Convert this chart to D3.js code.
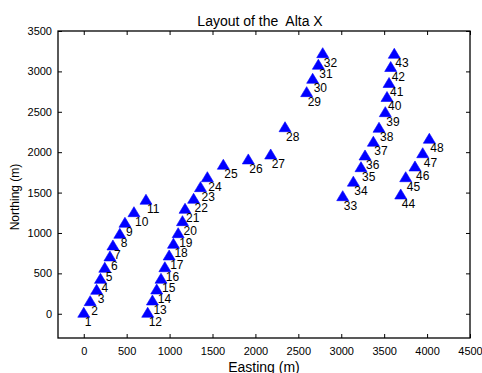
<!DOCTYPE html>
<html>
<head>
<meta charset="utf-8">
<script src="https://cdn.jsdelivr.net/npm/d3@7/dist/d3.min.js"></script>
<style>
  html, body { margin: 0; padding: 0; background: #fff; }
  svg { display: block; }
  text { font-family: "Liberation Sans", Arial, Helvetica, sans-serif; fill: #000; }
</style>
</head>
<body>
<svg id="chart" width="482" height="373"></svg>
<script>
// Turbine numbers and their coordinates (metres)
const turbineIds = d3.range(1, 49);
const easting = [
  0, 75, 150, 195, 245, 305, 340, 420, 480, 585, 725,
  745, 800, 850, 900, 945, 995, 1045, 1100, 1150, 1180, 1280, 1360, 1440,
  1626, 1917, 2178, 2345, 2597, 2667, 2733, 2784,
  3017, 3141, 3230, 3277, 3374, 3440, 3513, 3533, 3557, 3576, 3618,
  3693, 3751, 3859, 3949, 4026
];
const northing = [
  0, 144, 284, 420, 557, 697, 833, 978, 1114, 1245, 1399,
  0, 152, 288, 421, 564, 709, 854, 985, 1134, 1287, 1411, 1555, 1678,
  1832, 1898, 1959, 2297, 2731, 2896, 3070, 3213,
  1443, 1623, 1802, 1947, 2117, 2290, 2483, 2671, 2844, 3042, 3206,
  1464, 1678, 1811, 1975, 2154
];
const xTicks = [0, 500, 1000, 1500, 2000, 2500, 3000, 3500, 4000, 4500];
const yTicks = [0, 500, 1000, 1500, 2000, 2500, 3000, 3500];

const plot = { left: 58, right: 470, top: 31, bottom: 338 };
const x = d3.scaleLinear().domain([-300, 4500]).range([plot.left, plot.right]);
const y = d3.scaleLinear().domain([-300, 3500]).range([plot.bottom, plot.top]);

const svg = d3.select("#chart");

// Axes with inward ticks on all four sides (boxed axes)
const tickLen = 4;
svg.append("g").attr("transform", `translate(0,${plot.bottom})`)
  .call(d3.axisBottom(x).tickValues(xTicks).tickSize(-tickLen).tickPadding(9).tickFormat(d3.format("d")))
  .call(g => g.selectAll("text").attr("font-size", 11));
svg.append("g").attr("transform", `translate(0,${plot.top})`)
  .call(d3.axisTop(x).tickValues(xTicks).tickSize(-tickLen).tickFormat(""));
svg.append("g").attr("transform", `translate(${plot.left},0)`)
  .call(d3.axisLeft(y).tickValues(yTicks).tickSize(-tickLen).tickPadding(6).tickFormat(d3.format("d")))
  .call(g => g.selectAll("text").attr("font-size", 11));
svg.append("g").attr("transform", `translate(${plot.right},0)`)
  .call(d3.axisRight(y).tickValues(yTicks).tickSize(-tickLen).tickFormat(""));

svg.selectAll(".domain").remove();
svg.selectAll(".tick line").attr("stroke", "#000").attr("stroke-width", 1);

// Plot box
svg.append("rect")
  .attr("x", plot.left).attr("y", plot.top)
  .attr("width", plot.right - plot.left).attr("height", plot.bottom - plot.top)
  .attr("fill", "none").attr("stroke", "#000").attr("stroke-width", 1.3);

// Turbine markers
const turbines = turbineIds.map((id, i) => ({ id, e: easting[i], n: northing[i] }));
const tri = "M0,-6.5L6,3.5L-6,3.5Z";
svg.append("g").selectAll("path")
  .data(turbines).join("path")
  .attr("d", tri)
  .attr("transform", d => `translate(${x(d.e)},${y(d.n)})`)
  .attr("fill", "#0000ff").attr("stroke", "#0000ff").attr("stroke-width", 0.6);

// Turbine numbers, below-right of each marker
svg.append("g").selectAll("text")
  .data(turbines).join("text")
  .attr("x", d => x(d.e) + 1)
  .attr("y", d => y(d.n) + 12.5)
  .attr("font-size", 12)
  .text(d => d.id);

// Title and axis labels
svg.append("text").attr("x", 260).attr("y", 26).attr("text-anchor", "middle")
  .attr("font-size", 14).text("Layout of the  Alta X").style("white-space", "pre");
svg.append("text").attr("x", 264).attr("y", 372).attr("text-anchor", "middle")
  .attr("font-size", 14).text("Easting (m)");
svg.append("text").attr("transform", "translate(19,197) rotate(-90)").attr("text-anchor", "middle")
  .attr("font-size", 12).text("Northing (m)");
</script>
</body>
</html>
